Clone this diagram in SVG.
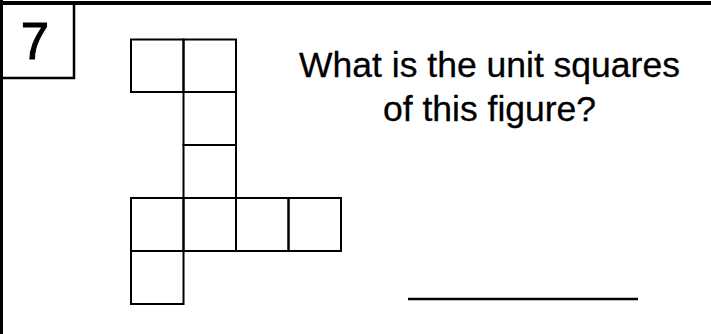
<svg xmlns="http://www.w3.org/2000/svg" width="711" height="334" viewBox="0 0 711 334">
<style>
.cell{fill:none;stroke:#000;stroke-width:2}
.txt{font-family:"Liberation Sans",Arial,sans-serif;fill:#000}
</style>
<rect width="711" height="334" fill="#fff"/>
<g id="frame">
<line x1="0" y1="3" x2="711" y2="3" stroke="#000" stroke-width="4"/>
<line x1="1.5" y1="0" x2="1.5" y2="334" stroke="#000" stroke-width="3"/>
</g>
<g id="number">
<polyline points="74,4 74,78 2,78" fill="none" stroke="#000" stroke-width="2.5"/>
<text class="txt" x="35" y="59" font-size="51" text-anchor="middle" stroke="#000" stroke-width="1">7</text>
</g>
<g id="figure">
<rect class="cell" x="131" y="39.5" width="52.5" height="52.5"/>
<rect class="cell" x="183.5" y="39.5" width="52.5" height="52.5"/>
<rect class="cell" x="183.5" y="92" width="52.5" height="53"/>
<rect class="cell" x="183.5" y="145" width="52.5" height="53"/>
<rect class="cell" x="131" y="198" width="52.5" height="53"/>
<rect class="cell" x="183.5" y="198" width="52.5" height="53"/>
<rect class="cell" x="236" y="198" width="52.5" height="53"/>
<rect class="cell" x="288.5" y="198" width="52.5" height="53"/>
<rect class="cell" x="131" y="251" width="52.5" height="53"/>
</g>
<g id="question">
<text class="txt" x="489.5" y="77" font-size="35.5" text-anchor="middle" stroke="#000" stroke-width="0.3">What is the unit squares</text>
<text class="txt" x="489.5" y="121" font-size="35.5" text-anchor="middle" stroke="#000" stroke-width="0.3">of this figure?</text>
</g>
<g id="answer-line">
<line x1="408" y1="299" x2="638" y2="299" stroke="#000" stroke-width="2.5"/>
</g>
</svg>
